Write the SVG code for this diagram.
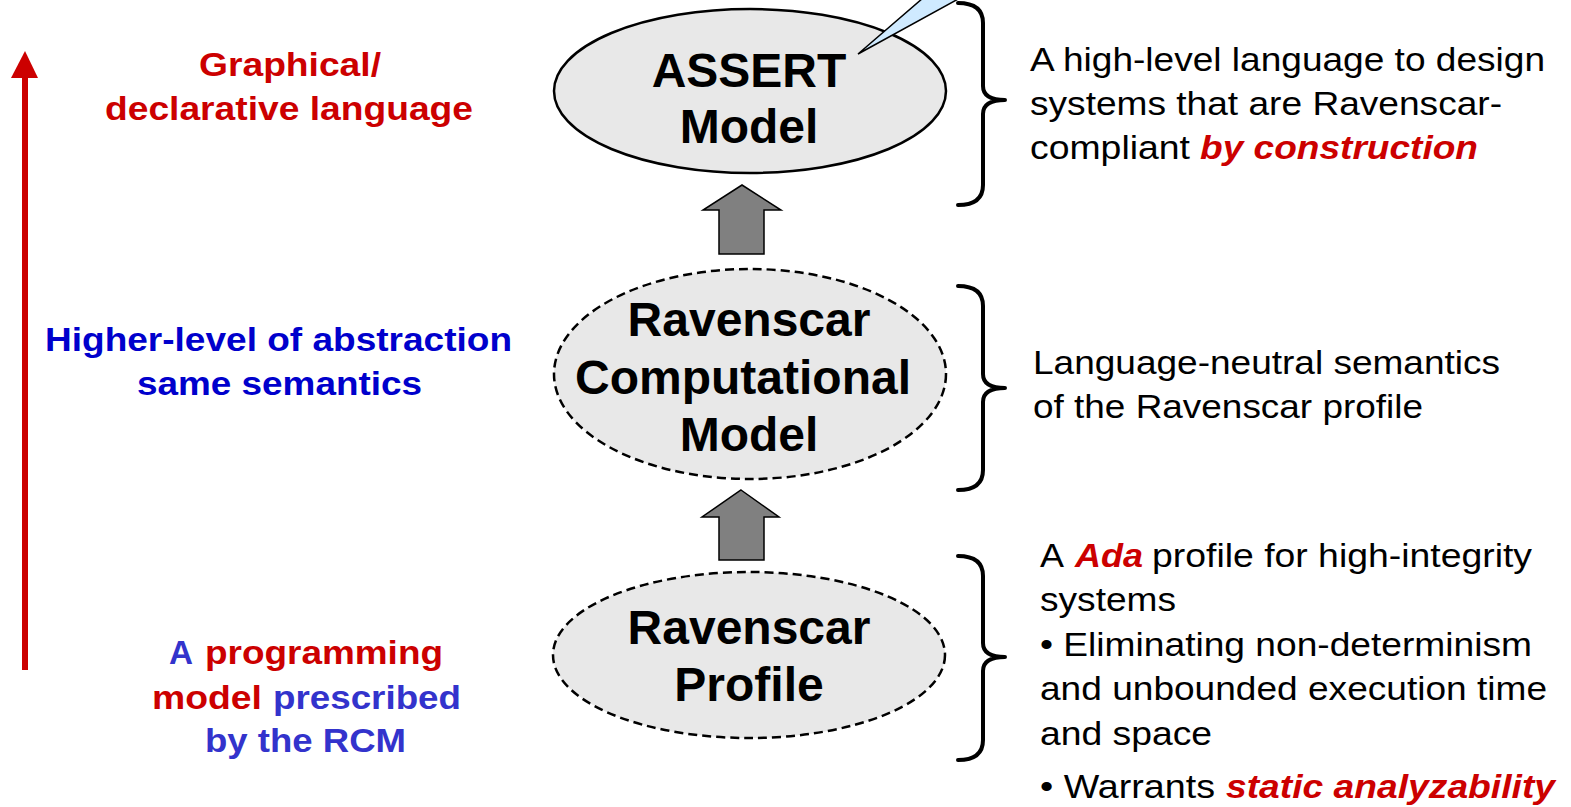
<svg xmlns="http://www.w3.org/2000/svg" width="1571" height="807" viewBox="0 0 1571 807">
<style>
.lbl{font-family:"Liberation Sans",Arial,sans-serif;font-weight:bold;font-size:34px}
.red{fill:#cc0000}
.blue{fill:#0000cc}
.mblue{fill:#3333cc}
.desc{font-family:"Liberation Sans",Arial,sans-serif;font-size:34px;fill:#000}
.emph{font-family:"Liberation Sans",Arial,sans-serif;font-size:34px;font-weight:bold;font-style:italic;fill:#cc0000}
.node{font-family:"Liberation Sans",Arial,sans-serif;font-weight:bold;font-size:48px;fill:#000;text-anchor:middle}
.ell{fill:#e8e8e8;stroke:#000;stroke-width:2.5}
.dash{stroke-dasharray:9 5}
.up{fill:#808080;stroke:#000;stroke-width:1.5}
.brace{fill:none;stroke:#000;stroke-width:4;stroke-linecap:round;stroke-linejoin:round}
</style>

<g id="axis-arrow">
<rect x="22" y="76" width="6" height="594" fill="#cc0000"/>
<polygon points="25,51 38,78 11,78" fill="#cc0000"/>
</g>

<g id="left-labels">
<text class="lbl red" x="199" y="76" textLength="182" lengthAdjust="spacingAndGlyphs">Graphical/</text>
<text class="lbl red" x="105" y="120" textLength="368" lengthAdjust="spacingAndGlyphs">declarative language</text>
<text class="lbl blue" x="45" y="351" textLength="467" lengthAdjust="spacingAndGlyphs">Higher-level of abstraction</text>
<text class="lbl blue" x="137" y="395" textLength="285" lengthAdjust="spacingAndGlyphs">same semantics</text>
<text class="lbl mblue" x="169" y="664" textLength="24" lengthAdjust="spacingAndGlyphs">A</text>
<text class="lbl red" x="205" y="664" textLength="238" lengthAdjust="spacingAndGlyphs">programming</text>
<text class="lbl red" x="152" y="709" textLength="110" lengthAdjust="spacingAndGlyphs">model</text>
<text class="lbl mblue" x="273" y="709" textLength="188" lengthAdjust="spacingAndGlyphs">prescribed</text>
<text class="lbl mblue" x="205" y="752" textLength="201" lengthAdjust="spacingAndGlyphs">by the RCM</text>
</g>

<g id="connectors">
<polygon class="up" points="742,185 781,210 764,210 764,254 719,254 719,210 703,210"/>
<polygon class="up" points="741,490 779,517 764,517 764,560 719,560 719,517 702,517"/>
</g>

<g id="node-assert">
<ellipse class="ell" cx="750" cy="91" rx="196" ry="82"/>
<text class="node" x="749" y="87">ASSERT</text>
<text class="node" x="749" y="143">Model</text>
</g>

<g id="callout">
<polygon points="858,54 923,-2 960,-2" fill="#cfeaff" stroke="#000" stroke-width="1.5"/>
</g>

<g id="node-rcm">
<ellipse class="ell dash" cx="750" cy="374" rx="196" ry="105"/>
<text class="node" x="749" y="336">Ravenscar</text>
<text class="node" x="743" y="394">Computational</text>
<text class="node" x="749" y="451">Model</text>
</g>

<g id="node-profile">
<ellipse class="ell dash" cx="749" cy="655" rx="196" ry="83"/>
<text class="node" x="749" y="644">Ravenscar</text>
<text class="node" x="749" y="701">Profile</text>
</g>

<g id="braces">
<path class="brace" d="M958,3 Q983,3 983,23 L983,86 Q983,100 1005,100 Q983,100 983,114 L983,185 Q983,205 958,205"/>
<path class="brace" d="M958,286 Q983,286 983,306 L983,374 Q983,388 1005,388 Q983,388 983,402 L983,470 Q983,490 958,490"/>
<path class="brace" d="M958,556 Q983,556 983,576 L983,643 Q983,657 1005,657 Q983,657 983,671 L983,740 Q983,760 958,760"/>
</g>

<g id="desc-assert">
<text class="desc" x="1030" y="71" textLength="515" lengthAdjust="spacingAndGlyphs">A high-level language to design</text>
<text class="desc" x="1030" y="115" textLength="472" lengthAdjust="spacingAndGlyphs">systems that are Ravenscar-</text>
<text class="desc" x="1030" y="159" textLength="160" lengthAdjust="spacingAndGlyphs">compliant</text>
<text class="emph" x="1200" y="159" textLength="278" lengthAdjust="spacingAndGlyphs">by construction</text>
</g>

<g id="desc-rcm">
<text class="desc" x="1033" y="374" textLength="467" lengthAdjust="spacingAndGlyphs">Language-neutral semantics</text>
<text class="desc" x="1033" y="418" textLength="390" lengthAdjust="spacingAndGlyphs">of the Ravenscar profile</text>
</g>

<g id="desc-profile">
<text class="desc" x="1040" y="567" textLength="24" lengthAdjust="spacingAndGlyphs">A</text>
<text class="emph" x="1075" y="567" textLength="68" lengthAdjust="spacingAndGlyphs">Ada</text>
<text class="desc" x="1152" y="567" textLength="380" lengthAdjust="spacingAndGlyphs">profile for high-integrity</text>
<text class="desc" x="1040" y="611" textLength="136" lengthAdjust="spacingAndGlyphs">systems</text>
<text class="desc" x="1040" y="656" textLength="492" lengthAdjust="spacingAndGlyphs">• Eliminating non-determinism</text>
<text class="desc" x="1040" y="700" textLength="507" lengthAdjust="spacingAndGlyphs">and unbounded execution time</text>
<text class="desc" x="1040" y="745" textLength="172" lengthAdjust="spacingAndGlyphs">and space</text>
<text class="desc" x="1040" y="798" textLength="175" lengthAdjust="spacingAndGlyphs">• Warrants</text>
<text class="emph" x="1226" y="798" textLength="329" lengthAdjust="spacingAndGlyphs">static analyzability</text>
</g>
</svg>
